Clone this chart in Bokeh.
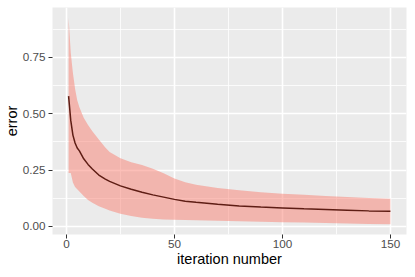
from bokeh.plotting import figure
from bokeh.models import Range1d, FixedTicker, ColumnDataSource
from bokeh.embed import file_html
from bokeh.resources import INLINE

iteration = [1, 2, 3, 4, 5, 6, 8, 10, 12, 15, 18, 20, 25, 30, 35, 40, 45, 50,
             55, 60, 70, 80, 90, 100, 110, 120, 130, 140, 150]
err_mean = [0.578, 0.47, 0.405, 0.37, 0.348, 0.335, 0.30, 0.275, 0.255, 0.228, 0.21,
            0.20, 0.18, 0.165, 0.152, 0.14, 0.13, 0.12, 0.112, 0.107, 0.098,
            0.091, 0.086, 0.082, 0.078, 0.075, 0.072, 0.069, 0.067]
err_upper = [0.925, 0.77, 0.68, 0.61, 0.56, 0.528, 0.482, 0.45, 0.422, 0.385, 0.35,
             0.33, 0.302, 0.285, 0.272, 0.256, 0.236, 0.213, 0.196, 0.185, 0.17,
             0.16, 0.152, 0.145, 0.14, 0.135, 0.13, 0.126, 0.123]
err_lower = [0.237, 0.237, 0.195, 0.175, 0.165, 0.155, 0.135, 0.117, 0.105, 0.09,
             0.078, 0.071, 0.056, 0.046, 0.039, 0.034, 0.031, 0.03, 0.028, 0.027,
             0.025, 0.023, 0.021, 0.019, 0.017, 0.015, 0.013, 0.011, 0.01]

x_ticks = [0, 50, 100, 150]
x_minor = [25, 75, 125]
y_ticks = [0.0, 0.25, 0.5, 0.75]
y_minor = [0.125, 0.375, 0.625, 0.875]
y_labels = {0.0: "0.00", 0.25: "0.25", 0.5: "0.50", 0.75: "0.75"}

src = ColumnDataSource(dict(x=iteration, m=err_mean, lo=err_lower, hi=err_upper))

x0, x1 = min(iteration), max(iteration)
ylo, yhi = min(err_lower), max(err_upper)
dx, dy = (x1 - x0) * 0.05, (yhi - ylo) * 0.05

p = figure(width=407, height=269, output_backend="svg", toolbar_location=None,
           x_range=Range1d(x0 - dx, x1 + dx), y_range=Range1d(ylo - dy, yhi + dy),
           min_border_left=52, min_border_right=1, min_border_top=7, min_border_bottom=33)

p.background_fill_color = "#EBEBEB"
p.border_fill_color = "white"
p.outline_line_color = None

p.varea(x="x", y1="lo", y2="hi", source=src, fill_color="#FA8072", fill_alpha=0.5)
p.line(x="x", y="m", source=src, line_color="#5E1D14", line_width=1.5)

p.xaxis.ticker = FixedTicker(ticks=x_ticks, minor_ticks=x_minor)
p.yaxis.ticker = FixedTicker(ticks=y_ticks, minor_ticks=y_minor)
p.yaxis.major_label_overrides = y_labels

for g in (p.xgrid, p.ygrid):
    g.grid_line_color = "white"
    g.grid_line_width = 1.6
    g.minor_grid_line_color = "white"
    g.minor_grid_line_width = 0.8

p.xaxis.axis_label = "iteration number"
p.yaxis.axis_label = "error"
for ax in (p.xaxis, p.yaxis):
    ax.axis_line_color = None
    ax.major_tick_line_color = "#333333"
    ax.major_tick_in = 0
    ax.major_tick_out = 4
    ax.minor_tick_line_color = None
    ax.major_label_text_font = "Liberation Sans"
    ax.major_label_text_font_size = "11.7px"
    ax.major_label_text_color = "#4D4D4D"
    ax.axis_label_text_font = "Liberation Sans"
    ax.axis_label_text_font_size = "14.5px"
    ax.axis_label_text_font_style = "normal"
    ax.axis_label_text_color = "black"
    ax.major_label_standoff = 1
    ax.axis_label_standoff = 0
p.yaxis.major_label_standoff = 3

open("out.html", "w").write(file_html(p, INLINE))
